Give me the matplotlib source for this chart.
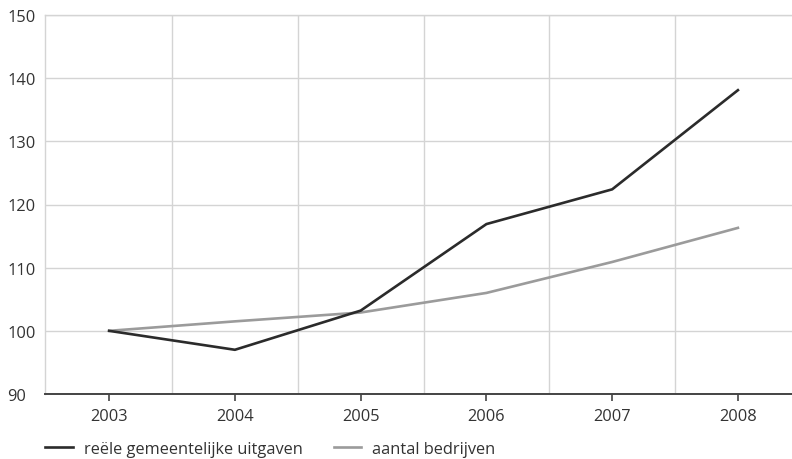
import matplotlib
matplotlib.use('Agg')
import matplotlib.pyplot as plt
from matplotlib.lines import Line2D

years = ['2003', '2004', '2005', '2006', '2007', '2008']
uitgaven = [100, 97.0, 103.2, 116.9, 122.4, 138.1]
bedrijven = [100, 101.5, 102.9, 106.0, 110.9, 116.3]
labels = ['reële gemeentelijke uitgaven', 'aantal bedrijven']

plt.rcParams['font.family'] = ['Open Sans', 'DejaVu Sans']
plt.rcParams['font.size'] = 11.8
txt = '#333333'
grid = '#d4d4d4'

fig = plt.figure(figsize=(7.92, 4.6), dpi=100)
ax = fig.add_axes([45 / 792, 65 / 460, 1 - 45 / 792, 379 / 460])

x = list(range(len(years)))
ax.plot(x, bedrijven, color='#9b9b9b', lw=1.9, zorder=3)
ax.plot(x, uitgaven, color='#2b2b2b', lw=1.9, zorder=4)

ax.set_ylim(90, 150)
ax.set_xlim(-0.51, 5.43)
ax.set_yticks(range(90, 151, 10))
ax.set_xticks(x)
ax.set_xticklabels(years, color=txt)
ax.set_xticks([i + 0.5 for i in range(5)], minor=True)

ax.grid(axis='y', color=grid, lw=1)
ax.grid(axis='x', which='minor', color=grid, lw=1)
ax.set_axisbelow(True)

ax.tick_params(axis='y', length=0, pad=27, labelcolor=txt)
for lab in ax.get_yticklabels():
    lab.set_horizontalalignment('left')
ax.tick_params(axis='x', which='major', length=5, width=1.2, color='#444444', pad=5)
ax.tick_params(axis='x', which='minor', length=0)

for s in ['top', 'left']:
    ax.spines[s].set_color(grid)
    ax.spines[s].set_linewidth(1)
ax.spines['right'].set_visible(False)
ax.spines['bottom'].set_color('#444444')
ax.spines['bottom'].set_linewidth(1.4)

handles = [Line2D([], [], color='#2b2b2b', lw=1.9), Line2D([], [], color='#9b9b9b', lw=1.9)]
fig.legend(handles, labels, loc='center left', bbox_to_anchor=(45 / 792, 1 - 450 / 460),
           ncol=2, frameon=False, handlelength=1.7, handletextpad=0.65, columnspacing=1.9,
           borderaxespad=0, borderpad=0, labelcolor=txt)

fig.savefig('out.png', dpi=100)
